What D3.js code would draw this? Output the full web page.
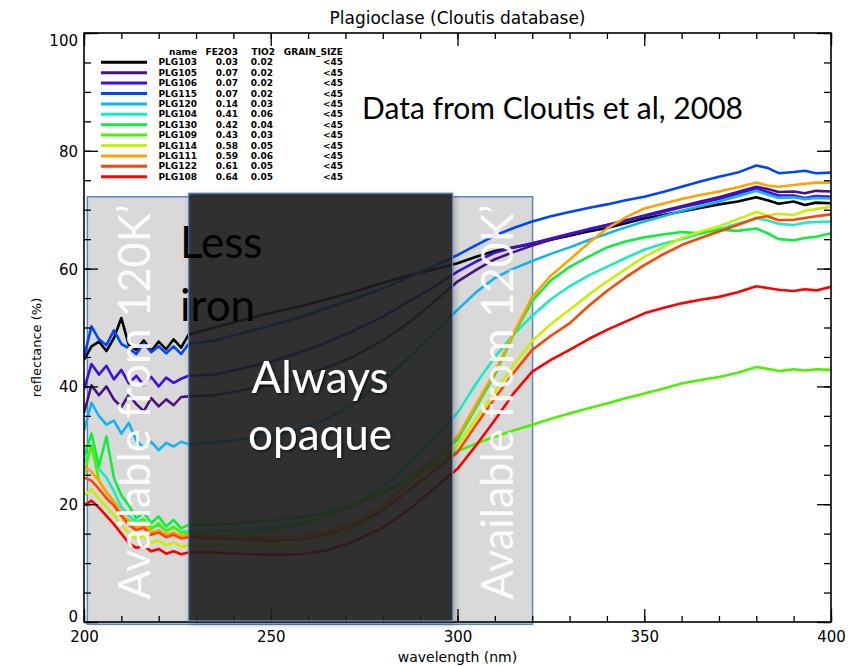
<!DOCTYPE html>
<html><head><meta charset="utf-8">
<script src="https://cdn.jsdelivr.net/npm/d3@7"></script>
<style>body{margin:0;background:#fff} svg{display:block}</style>
</head><body><svg id="chart" width="859" height="666"></svg>
<script>
// ---------------- DATA ----------------
const wavelengths = [200,202,204,206,208,210,212,214,216,218,220,222,224,226,228,
  235,242,250,258,265,272,280,288,294,
  300,305,310,315,320,325,330,335,340,345,350,355,360,365,370,375,380,383,386,390,393,396,400];

const seriesNames = ["PLG103","PLG105","PLG106","PLG115","PLG120","PLG104","PLG130","PLG109","PLG114","PLG111","PLG122","PLG108"];
const fe2o3Labels = ["0.03","0.07","0.07","0.07","0.14","0.41","0.42","0.43","0.58","0.59","0.61","0.64"];
const tio2Labels  = ["0.02","0.02","0.02","0.02","0.03","0.06","0.04","0.03","0.05","0.06","0.05","0.05"];
const grainSizeLabels = ["<45","<45","<45","<45","<45","<45","<45","<45","<45","<45","<45","<45"];
const seriesColors = ["#000000","#4b0f80","#3c10d8","#0044ff","#10b4f0","#18ecc0","#10ee3c","#4cf000","#c8f000","#ffa200","#ff4400","#ff0000"];

const PLG103 = [44.5,46.8,47.6,46.0,48.2,51.6,47.0,46.2,47.8,46.0,47.6,46.3,48.0,46.6,48.8,
  50.0,51.2,52.5,53.6,54.8,56.0,57.6,59.0,59.9,
  60.9,62.0,63.0,63.6,64.2,64.9,65.6,66.3,66.9,67.7,68.5,69.1,69.7,70.3,70.9,71.4,72.1,71.6,71.0,71.4,70.8,71.2,71.1];
const PLG105 = [35.5,40.2,38.5,40.0,37.8,36.5,38.6,37.0,35.8,38.0,36.6,37.8,36.8,38.2,38.3,
  38.5,39.3,40.3,41.6,43.2,45.0,47.8,51.3,54.5,
  57.8,59.8,61.6,62.8,63.9,64.9,65.8,66.6,67.4,68.2,69.0,69.8,70.6,71.4,72.1,73.0,73.9,73.5,73.0,73.1,72.8,73.2,73.1];
const PLG106 = [39.5,43.8,42.0,43.5,41.2,42.8,40.5,41.8,40.2,41.6,40.0,41.5,40.6,41.3,41.8,
  42.0,43.0,44.2,45.8,47.5,49.4,51.8,54.8,57.0,
  59.5,61.2,62.7,63.6,64.3,65.1,65.9,66.7,67.4,68.1,68.9,69.6,70.4,71.1,71.8,72.7,73.6,73.0,72.4,72.4,72.0,72.3,72.2];
const PLG115 = [45.0,50.2,48.0,47.0,49.5,47.2,46.5,45.5,47.3,45.8,46.8,45.6,46.8,45.5,47.2,
  47.8,49.0,50.3,51.8,53.3,54.8,56.6,58.8,60.5,
  62.3,64.0,65.6,66.9,68.0,68.9,69.6,70.3,70.9,71.6,72.2,73.0,73.9,74.8,75.6,76.3,77.5,77.1,76.2,76.4,76.6,76.2,76.3];
const PLG120 = [32.5,37.2,35.0,33.5,34.2,32.0,33.8,30.8,29.6,30.6,29.2,30.4,29.8,30.6,30.2,
  30.5,31.0,31.8,32.8,34.5,37.0,40.8,45.5,49.3,
  53.0,56.0,58.4,60.0,61.3,62.5,63.6,64.8,65.9,67.0,68.0,68.9,69.8,70.6,71.4,72.3,73.2,72.6,72.0,72.1,71.8,72.0,71.9];
const PLG104 = [27.0,29.5,26.0,24.5,22.2,19.5,18.0,17.0,17.5,16.0,16.4,15.5,16.0,15.3,15.4,
  15.3,15.6,16.0,16.8,18.0,19.8,22.8,27.5,31.5,
  35.5,40.5,45.0,48.8,52.0,54.8,57.0,58.8,60.3,61.8,63.2,64.2,65.0,65.9,66.7,67.6,68.5,68.2,67.6,67.4,67.8,67.9,68.0];
const PLG130 = [28.0,32.0,26.5,31.5,24.5,21.5,19.8,17.6,18.6,16.8,17.9,16.2,17.3,15.9,16.5,
  16.5,16.8,17.2,17.8,18.6,19.8,21.8,24.8,27.8,
  31.0,36.5,42.0,48.8,54.5,58.0,60.3,62.0,63.6,64.6,65.3,65.8,66.2,66.0,66.6,66.4,66.8,66.0,65.0,64.8,65.2,65.4,66.0];
const PLG109 = [25.0,30.0,24.0,22.0,20.5,18.0,17.2,16.6,17.4,15.8,16.8,15.4,16.2,15.2,15.0,
  14.5,15.0,15.6,16.5,18.0,19.8,22.0,24.8,27.0,
  29.0,30.3,31.5,32.5,33.5,34.5,35.4,36.3,37.1,38.0,38.8,39.6,40.5,41.1,41.6,42.3,43.3,43.0,42.6,42.9,42.7,42.9,42.8];
const PLG114 = [21.5,22.5,21.0,19.5,18.2,16.5,15.0,14.2,14.6,13.4,13.8,13.0,13.5,12.8,13.0,
  13.2,13.0,12.8,13.0,14.0,15.8,18.8,23.0,26.5,
  30.0,34.5,39.0,43.6,47.7,50.6,53.0,55.5,57.8,59.9,62.0,63.6,65.2,66.3,67.2,68.4,69.6,69.0,69.3,69.1,69.8,70.1,70.5];
const PLG111 = [26.5,25.5,24.0,22.0,20.5,18.6,17.0,16.0,16.5,15.2,15.6,14.8,15.2,14.6,14.8,
  14.6,14.5,14.4,14.6,15.4,17.0,19.8,24.0,27.5,
  31.5,37.0,42.5,49.0,55.2,58.8,61.5,64.3,66.8,68.7,70.2,71.0,71.8,72.5,73.1,73.8,74.6,74.1,73.9,74.2,74.4,74.6,74.6];
const PLG122 = [24.5,24.0,22.6,21.0,19.8,18.0,16.5,15.6,16.0,14.8,15.2,14.4,14.8,14.2,14.4,
  14.2,14.0,13.8,14.0,14.8,16.3,19.0,22.8,25.8,
  28.8,33.5,38.0,42.3,46.2,48.6,50.7,53.6,56.2,58.5,60.6,62.4,64.0,65.2,66.3,67.4,68.6,68.9,68.2,68.3,68.6,68.9,69.2];
const PLG108 = [19.8,20.6,19.4,18.0,16.6,15.0,13.4,12.6,12.9,12.0,12.4,11.6,12.0,11.5,11.8,
  11.8,11.6,11.4,11.5,12.2,13.6,16.0,19.6,22.8,
  26.0,30.0,34.3,38.8,42.5,44.5,46.2,48.0,49.6,51.0,52.4,53.3,54.1,54.7,55.2,56.0,57.0,56.7,56.4,56.2,56.5,56.3,56.9];
const seriesValues = [PLG103,PLG105,PLG106,PLG115,PLG120,PLG104,PLG130,PLG109,PLG114,PLG111,PLG122,PLG108];

const xMajorTicks = [200,250,300,350,400];
const xMinorTicks = d3.range(200, 401, 10);
const yMajorTicks = [0,20,40,60,80,100];
const yMinorTicks = d3.range(0, 101, 5);

// annotation boxes in data units
const availBox = {w0:200.9, w1:320.1, r0:-0.4, r1:72.2};
const opaqueBox = {w0:228.0, w1:298.7, r0:0.2, r1:72.8};

// ---------------- CHART ----------------
const svg = d3.select('#chart');
const W = 859, H = 666;
const P = {left:84, right:831, top:33, bottom:622};
const x = d3.scaleLinear().domain([200,400]).range([P.left, P.right]);
const y = d3.scaleLinear().domain([0,100]).range([P.bottom, P.top]);

svg.append('rect').attr('width',W).attr('height',H).attr('fill','#fff');

const defs = svg.append('defs');
defs.append('clipPath').attr('id','plotclip').append('rect')
  .attr('x',P.left).attr('y',P.top).attr('width',P.right-P.left).attr('height',P.bottom-P.top);
const sh = defs.append('filter').attr('id','boxshadow').attr('x','-10%').attr('y','-10%').attr('width','130%').attr('height','130%');
sh.append('feDropShadow').attr('dx',2).attr('dy',3).attr('stdDeviation',3).attr('flood-color','#000').attr('flood-opacity',0.3);
const tsh = defs.append('filter').attr('id','txtshadow').attr('x','-10%').attr('y','-10%').attr('width','130%').attr('height','130%');
tsh.append('feDropShadow').attr('dx',1.5).attr('dy',1.5).attr('stdDeviation',1.2).attr('flood-color','#000').attr('flood-opacity',0.6);

// light grey "available" box (behind curves)
svg.append('rect')
  .attr('x', x(availBox.w0)).attr('y', y(availBox.r1))
  .attr('width', x(availBox.w1)-x(availBox.w0)).attr('height', y(availBox.r0)-y(availBox.r1))
  .attr('fill','#d9d9d9').attr('stroke','#5b86bf').attr('stroke-width',1.5);

// curves
const line = d3.line().x((d,i)=>x(wavelengths[i])).y(d=>y(d));
svg.append('g').attr('clip-path','url(#plotclip)')
  .selectAll('path').data(seriesValues).join('path')
  .attr('d', line).attr('fill','none')
  .attr('stroke', (d,i)=>seriesColors[i]).attr('stroke-width',2.6)
  .attr('stroke-linejoin','round');

// axes
function styleAxis(g){ g.select('.domain').remove(); g.selectAll('line').attr('stroke','#000').attr('stroke-width',1.3); }
const tickFont = g => g.selectAll('text').attr('font-family','DejaVu Sans').attr('font-size',15).attr('fill','#000');

svg.append('g').attr('transform',`translate(0,${P.bottom})`)
  .call(d3.axisBottom(x).tickValues(xMinorTicks).tickSize(-6).tickFormat('')).call(styleAxis);
svg.append('g').attr('transform',`translate(0,${P.bottom})`)
  .call(d3.axisBottom(x).tickValues(xMajorTicks).tickSize(-13).tickPadding(9).tickFormat(d3.format('d')))
  .call(styleAxis).call(tickFont);
svg.append('g').attr('transform',`translate(0,${P.top})`)
  .call(d3.axisTop(x).tickValues(xMinorTicks).tickSize(-6).tickFormat('')).call(styleAxis);
svg.append('g').attr('transform',`translate(0,${P.top})`)
  .call(d3.axisTop(x).tickValues(xMajorTicks).tickSize(-13).tickFormat('')).call(styleAxis);

svg.append('g').attr('transform',`translate(${P.left},0)`)
  .call(d3.axisLeft(y).tickValues(yMinorTicks).tickSize(-7).tickFormat('')).call(styleAxis);
const yl = svg.append('g').attr('transform',`translate(${P.left},0)`)
  .call(d3.axisLeft(y).tickValues(yMajorTicks).tickSize(-14).tickPadding(6).tickFormat(d3.format('d')))
  .call(styleAxis).call(tickFont);
yl.selectAll('text').attr('dy', d => d===100 ? '0.85em' : (d===0 ? '-0.05em' : '0.36em'));
svg.append('g').attr('transform',`translate(${P.right},0)`)
  .call(d3.axisRight(y).tickValues(yMinorTicks).tickSize(-7).tickFormat('')).call(styleAxis);
svg.append('g').attr('transform',`translate(${P.right},0)`)
  .call(d3.axisRight(y).tickValues(yMajorTicks).tickSize(-14).tickFormat('')).call(styleAxis);

// frame
svg.append('rect').attr('x',P.left).attr('y',P.top).attr('width',P.right-P.left).attr('height',P.bottom-P.top)
  .attr('fill','none').attr('stroke','#000').attr('stroke-width',1.6);

// titles
svg.append('text').attr('x',(P.left+P.right)/2).attr('y',24).attr('text-anchor','middle')
  .attr('font-family','DejaVu Sans').attr('font-size',17).text('Plagioclase (Cloutis database)');
svg.append('text').attr('x',(P.left+P.right)/2).attr('y',662).attr('text-anchor','middle')
  .attr('font-family','DejaVu Sans').attr('font-size',14).text('wavelength (nm)');
svg.append('text').attr('transform',`translate(41,${(P.top+P.bottom)/2+20}) rotate(-90)`).attr('text-anchor','middle')
  .attr('font-family','DejaVu Sans').attr('font-size',13).text('reflectance (%)');

// legend
const lg = svg.append('g').attr('font-family','DejaVu Sans').attr('font-weight','bold').attr('font-size',9).attr('fill','#000');
const rowY = i => 62.3 + i*10.4;
const hdrY = 52;
[["name",197],["FE2O3",238],["TIO2",275],["GRAIN_SIZE",343]].forEach(([t,xx])=>{
  lg.append('text').attr('x',xx).attr('y',hdrY).attr('dy','0.35em').attr('text-anchor','end').text(t);
});
seriesNames.forEach((n,i)=>{
  lg.append('line').attr('x1',101).attr('x2',147).attr('y1',rowY(i)).attr('y2',rowY(i))
    .attr('stroke',seriesColors[i]).attr('stroke-width',3);
  lg.append('text').attr('x',197).attr('y',rowY(i)).attr('dy','0.35em').attr('text-anchor','end').text(n);
  lg.append('text').attr('x',238).attr('y',rowY(i)).attr('dy','0.35em').attr('text-anchor','end').text(fe2o3Labels[i]);
  lg.append('text').attr('x',273).attr('y',rowY(i)).attr('dy','0.35em').attr('text-anchor','end').text(tio2Labels[i]);
  lg.append('text').attr('x',343).attr('y',rowY(i)).attr('dy','0.35em').attr('text-anchor','end').text(grainSizeLabels[i]);
});

// dark "always opaque" box
svg.append('rect')
  .attr('x', x(opaqueBox.w0)).attr('y', y(opaqueBox.r1))
  .attr('width', x(opaqueBox.w1)-x(opaqueBox.w0)).attr('height', y(opaqueBox.r0)-y(opaqueBox.r1))
  .attr('fill','#1c1c1c').attr('fill-opacity',0.87)
  .attr('stroke','#5b86bf').attr('stroke-width',1.2).attr('filter','url(#boxshadow)');

// annotation texts
const annFont = 'Lato, "Open Sans", sans-serif';
const availText = 'Available from 120K\u2019';
[[150, 402],[513, 402]].forEach(([bx,cy])=>{
  svg.append('text').attr('transform',`translate(${bx},${cy}) rotate(-90)`)
    .attr('text-anchor','middle').attr('font-family',annFont).attr('font-size',44)
    .attr('textLength',395).attr('lengthAdjust','spacingAndGlyphs')
    .attr('fill','#ffffff').attr('fill-opacity',0.92).text(availText);
});
svg.append('text').attr('x',180).attr('y',258).attr('font-family',annFont).attr('font-size',44).attr('fill','#000').text('Less');
svg.append('text').attr('x',180).attr('y',321).attr('font-family',annFont).attr('font-size',44).attr('fill','#000').text('iron');
svg.append('text').attr('x',320).attr('y',393).attr('text-anchor','middle').attr('font-family',annFont).attr('font-size',44)
  .attr('fill','#fff').attr('filter','url(#txtshadow)').text('Always');
svg.append('text').attr('x',320).attr('y',450).attr('text-anchor','middle').attr('font-family',annFont).attr('font-size',44)
  .attr('fill','#fff').attr('filter','url(#txtshadow)').text('opaque');
svg.append('text').attr('x',362).attr('y',119).attr('font-family',annFont).attr('font-size',30).attr('fill','#000')
  .text('Data from Cloutis et al, 2008');
</script></body></html>
